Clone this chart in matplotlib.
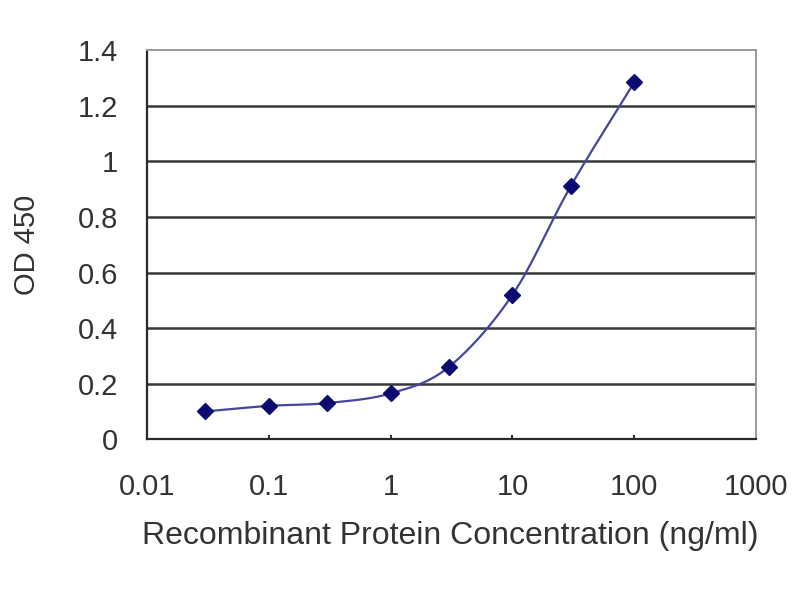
import numpy as np
import matplotlib
matplotlib.use("Agg")
import matplotlib.pyplot as plt
from matplotlib.ticker import FixedLocator, NullLocator

conc = [0.03, 0.1, 0.3, 1, 3, 10, 30, 100]
od = [0.10, 0.12, 0.13, 0.165, 0.26, 0.52, 0.91, 1.285]
xtick_vals = [0.01, 0.1, 1, 10, 100, 1000]
xtick_labels = ["0.01", "0.1", "1", "10", "100", "1000"]
ytick_vals = [0, 0.2, 0.4, 0.6, 0.8, 1, 1.2, 1.4]
ytick_labels = ["0", "0.2", "0.4", "0.6", "0.8", "1", "1.2", "1.4"]

plt.rcParams['font.family'] = ['Liberation Sans', 'DejaVu Sans']

def smooth(xs, ys, n=30):
    # Excel-like smoothed line (Bezier segments) in log-x space
    lx = np.log10(xs); y = np.array(ys, float)
    P = np.column_stack([lx, y])
    P = np.vstack([P[0] - (P[1] - P[0]), P, P[-1] + (P[-1] - P[-2])])
    out = []
    for i in range(1, len(P) - 2):
        p0, p1, p2, p3 = P[i-1], P[i], P[i+1], P[i+2]
        t = np.linspace(0, 1, n)[:, None]
        c1 = p1 + (p2 - p0) / 6
        c2 = p2 - (p3 - p1) / 6
        seg = (1-t)**3*p1 + 3*(1-t)**2*t*c1 + 3*(1-t)*t**2*c2 + t**3*p2
        out.append(seg)
    S = np.vstack(out)
    return 10**S[:, 0], S[:, 1]

txt = '#333333'
fig = plt.figure(figsize=(8, 6), dpi=100)
ax = fig.add_axes([0.184, 0.268, 0.761, 0.648])
ax.set_xscale('log')
ax.set_xlim(0.01, 1000)
ax.set_ylim(0, 1.4)

for v in ytick_vals[1:-1]:
    ax.axhline(v, color='#383838', lw=1.8, zorder=1)

sx, sy = smooth(conc, od)
ax.plot(sx, sy, color='#4646a0', lw=1.6, zorder=2)
ax.plot(conc, od, linestyle='none', marker='D', ms=8.5, color='#0c0c70', zorder=3)

ax.xaxis.set_major_locator(FixedLocator(xtick_vals))
ax.xaxis.set_minor_locator(NullLocator())
ax.set_xticklabels(xtick_labels)
ax.set_yticks(ytick_vals)
ax.set_yticklabels(ytick_labels)

ax.tick_params(axis='both', labelsize=21, labelcolor=txt, color='#2a2a2a',
               length=3, width=1.4, direction='in')
ax.tick_params(axis='x', pad=24)
ax.tick_params(axis='y', pad=21, length=0)

for s in ['top', 'right']:
    ax.spines[s].set_color('#9a9a9a')
    ax.spines[s].set_linewidth(1.4)
for s in ['left', 'bottom']:
    ax.spines[s].set_color('#2a2a2a')
    ax.spines[s].set_linewidth(1.6)

ax.set_xlabel("Recombinant Protein Concentration (ng/ml)", fontsize=23, color=txt)
ax.xaxis.set_label_coords(0.497, -0.21)
ax.set_ylabel("OD 450", fontsize=21, color=txt)
ax.yaxis.set_label_coords(-0.174, 0.5)

fig.savefig("out.png", dpi=100)
